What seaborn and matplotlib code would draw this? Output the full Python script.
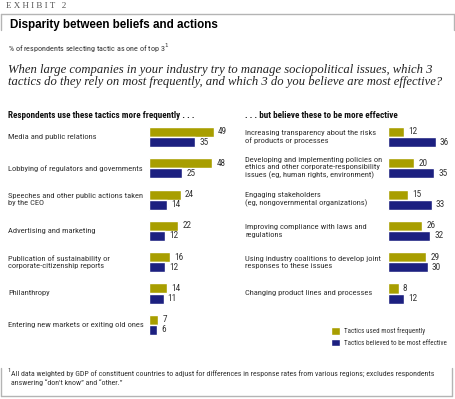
import matplotlib
matplotlib.use("Agg")
import matplotlib.pyplot as plt
import seaborn as sns
import pandas as pd
from matplotlib.lines import Line2D
from matplotlib.patches import Patch
from matplotlib.transforms import blended_transform_factory
from matplotlib.font_manager import FontProperties, fontManager
from matplotlib.textpath import TextPath

# data
series = ["Tactics used most frequently", "Tactics believed to be most effective"]

left_tactics = [
    "Media and public relations",
    "Lobbying of regulators and governments",
    "Speeches and other public actions taken\nby the CEO",
    "Advertising and marketing",
    "Publication of sustainability or\ncorporate-citizenship reports",
    "Philanthropy",
    "Entering new markets or exiting old ones",
]
left_used = [49, 48, 24, 22, 16, 14, 7]
left_effective = [35, 25, 14, 12, 12, 11, 6]

right_tactics = [
    "Increasing transparency about the risks\nof products or processes",
    "Developing and implementing policies on\nethics and other corporate-responsibility\nissues (eg, human rights, environment)",
    "Engaging stakeholders\n(eg, nongovernmental organizations)",
    "Improving compliance with laws and\nregulations",
    "Using industry coalitions to develop joint\nresponses to these issues",
    "Changing product lines and processes",
]
right_used = [12, 20, 15, 26, 29, 8]
right_effective = [36, 35, 33, 32, 30, 12]

GOLD = "#a89e00"
NAVY = "#1c2080"
TXT = "#333333"

# pick a narrow sans if there is one
have = {(f.name, f.stretch) for f in fontManager.ttflist}
names = {n for n, _ in have}
FAM, STRETCH = "Liberation Sans", "normal"
for cand in ["Liberation Sans Narrow", "Arial Narrow", "Roboto Condensed",
             "DejaVu Sans Condensed", "Noto Sans Condensed", "Open Sans Condensed"]:
    if cand in names:
        FAM = cand
        break
else:
    for n, s in have:
        if n in ("DejaVu Sans", "Noto Sans", "Roboto", "Open Sans") and "condensed" in str(s):
            FAM, STRETCH = n, s
            break


def fit(s, px, family=None, stretch=None, **kw):
    # font size (pt) that makes s about px pixels wide
    prop = FontProperties(family=family or FAM, stretch=stretch or STRETCH, **kw)
    w = TextPath((0, 0), s, size=10, prop=prop).get_extents().width
    return 10 * px / (w * 100 / 72)


W, H = 455, 399
fx = lambda x: x / W
fy = lambda y: 1 - y / H

sns.set_style("white")
plt.rcParams["font.family"] = [FAM, "DejaVu Sans"]
plt.rcParams["font.stretch"] = STRETCH

fig = plt.figure(figsize=(4.55, 3.99), dpi=100)

# frame
frame = "#b4b4b4"
for (x0, y0, x1, y1) in [(0.5, 14, 454, 14), (1, 14, 1, 30), (454, 14, 454, 30),
                         (1, 368, 1, 396), (1, 396, 452, 396), (452, 368, 452, 396)]:
    fig.add_artist(Line2D([fx(x0), fx(x1)], [fy(y0), fy(y1)], color=frame, lw=1,
                          transform=fig.transFigure))

ex = "E X H I B I T   2"
fig.text(fx(6), fy(6), ex, fontsize=fit(ex, 60, family="Liberation Serif", stretch="normal"),
         family="Liberation Serif", stretch="normal", color="#555555", va="center")
title = "Disparity between beliefs and actions"
fig.text(fx(10), fy(25), title,
         fontsize=fit(title, 207, family="Liberation Sans", stretch="normal", weight="bold"),
         family="Liberation Sans", stretch="normal", weight="bold", color="black", va="center")
sub = "% of respondents selecting tactic as one of top 3"
fig.text(fx(8), fy(48), sub + "$^1$", fontsize=fit(sub, 155), color=TXT, va="center")
q1 = "When large companies in your industry try to manage sociopolitical issues, which 3"
q2 = "tactics do they rely on most frequently, and which 3 do you believe are most effective?"
qkw = dict(family="Liberation Serif", stretch="normal", style="italic")
qs = min(fit(q1, 431, **qkw), fit(q2, 440, **qkw)) * 0.98
fig.text(fx(8), fy(76), q1 + "\n" + q2, fontsize=qs, color="#222222",
         va="center", linespacing=1.1, **qkw)

h1 = "Respondents use these tactics more frequently . . ."
h2 = ". . . but believe these to be more effective"
hs = fit(h1, 185, weight="bold")
fig.text(fx(8), fy(116), h1, fontsize=hs, weight="bold", color="#111111", va="center")
fig.text(fx(245), fy(116), h2, fontsize=hs, weight="bold", color="#111111", va="center")

LS = min(fit("Lobbying of regulators and governments", 134),
         fit("Speeches and other public actions taken", 136))

SCALE = 1.32      # px per percentage point
STEP = 31.3       # px between rows
TOP = 137 - STEP / 2


def panel(x_left, xmax, tactics, used, effective, label_x):
    n = len(tactics)
    ax = fig.add_axes([fx(x_left), fy(TOP + n * STEP), fx(xmax * SCALE), n * STEP / H])
    df = pd.DataFrame({
        "tactic": tactics * 2,
        "value": used + effective,
        "series": [series[0]] * n + [series[1]] * n,
    })
    sns.barplot(data=df, y="tactic", x="value", hue="series", hue_order=series,
                order=tactics, palette=[GOLD, NAVY], orient="h", width=0.64,
                saturation=1, legend=False, ax=ax)
    ax.set_xlim(0, xmax)
    ax.set_ylim(n - 0.5, -0.5)
    ax.axis("off")
    for c in ax.containers:
        ax.bar_label(c, padding=3, fontsize=LS * 1.1, color=TXT)
    tr = blended_transform_factory(fig.transFigure, ax.transData)
    for i, t in enumerate(tactics):
        ax.text(fx(label_x), i, t, transform=tr, fontsize=LS, color=TXT,
                va="center", ha="left", linespacing=1.25)
    return ax


panel(149, 60, left_tactics, left_used, left_effective, 8)
panel(388, 50, right_tactics, right_used, right_effective, 245)

handles = [Patch(facecolor=GOLD), Patch(facecolor=NAVY)]
lg = fit(series[1], 102)
fig.legend(handles, series, loc="upper left", bbox_to_anchor=(fx(331), fy(327)),
           frameon=False, fontsize=lg, handlelength=1.3, handleheight=1.3,
           handletextpad=0.5, labelspacing=0.5, borderaxespad=0, borderpad=0,
           labelcolor=TXT)

f1 = ("All data weighted by GDP of constituent countries to adjust for differences "
      "in response rates from various regions; excludes respondents")
f2 = "answering \u201cdon't know\u201d and \u201cother.\u201d"
fs = fit(f1, 426)
fig.text(fx(7), fy(370), "1", fontsize=fs * 0.8, color=TXT, va="center")
fig.text(fx(11), fy(378), f1 + "\n" + f2, fontsize=fs, color=TXT, va="center",
         linespacing=1.3)

fig.savefig("out.png", dpi=100)
